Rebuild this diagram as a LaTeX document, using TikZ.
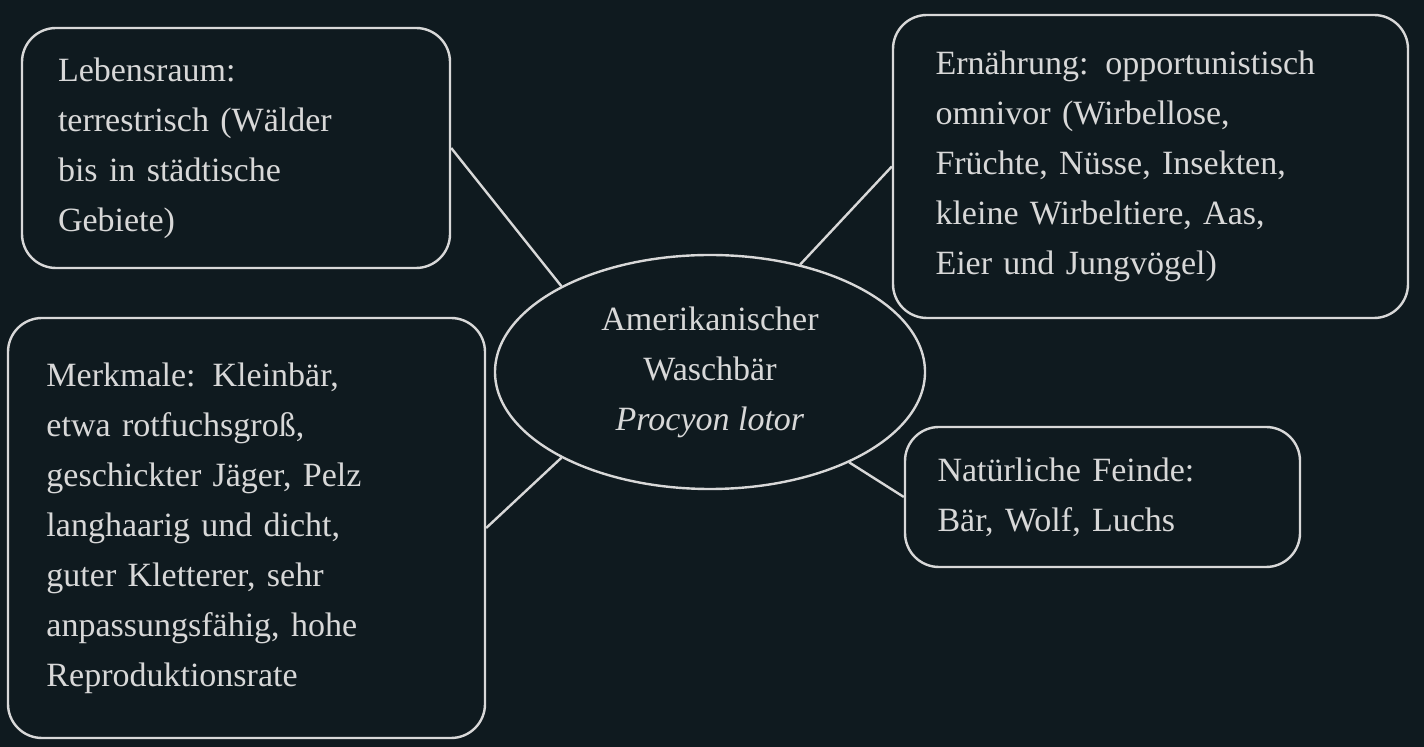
\documentclass[tikz,border=0pt]{standalone}
\usepackage{fontspec}
\setmainfont{Liberation Serif}
\definecolor{bgdark}{HTML}{0F1A1F}
\definecolor{linegray}{HTML}{D8D8D8}
\tikzset{
  info/.style={rectangle, rounded corners=17pt, draw=linegray, line width=1.2pt,
    text=linegray, align=left, font=\fontsize{17}{25}\selectfont, inner sep=0pt},
  center/.style={ellipse, draw=linegray, line width=1.2pt, text=linegray,
    align=center, font=\fontsize{17}{25}\selectfont, minimum width=215pt, minimum height=117pt},
  link/.style={draw=linegray, line width=1.2pt}
}
\usetikzlibrary{shapes.geometric}
\begin{document}
\begin{tikzpicture}[x=0.5pt,y=-0.5pt]
  % Hintergrund
  \fill[bgdark] (0,0) rectangle (1424,747);
  % Knoten
  \node[center] (raccoon) at (710,372) {Amerikanischer\\Waschbär\\\textit{Procyon lotor}};
  \node[info, minimum width=214pt, minimum height=120pt, text width=178pt] (habitat) at (236,148)
    {Lebensraum:\\terrestrisch (Wälder\\bis in städtische\\Gebiete)};
  \node[info, minimum width=257.5pt, minimum height=151.5pt, text width=215pt] (diet) at (1150.5,166.5)
    {Ernährung: opportunistisch\\omnivor (Wirbellose,\\Früchte, Nüsse, Insekten,\\kleine Wirbeltiere, Aas,\\Eier und Jungvögel)};
  \node[info, minimum width=238.5pt, minimum height=210pt, text width=200pt] (traits) at (246.5,528)
    {Merkmale: Kleinbär,\\etwa rotfuchsgroß,\\geschickter Jäger, Pelz\\langhaarig und dicht,\\guter Kletterer, sehr\\anpassungsfähig, hohe\\Reproduktionsrate};
  \node[info, minimum width=197.5pt, minimum height=70pt, text width=165pt] (enemies) at (1102.5,497)
    {Natürliche Feinde:\\Bär, Wolf, Luchs};
  % Verbindungen
  \draw[link] (raccoon.150) -- (habitat.east);
  \draw[link] (raccoon.50) -- (diet.west);
  \draw[link] (raccoon.210) -- (traits.east);
  \draw[link] (raccoon.-33) -- (enemies.west);
\end{tikzpicture}
\end{document}
